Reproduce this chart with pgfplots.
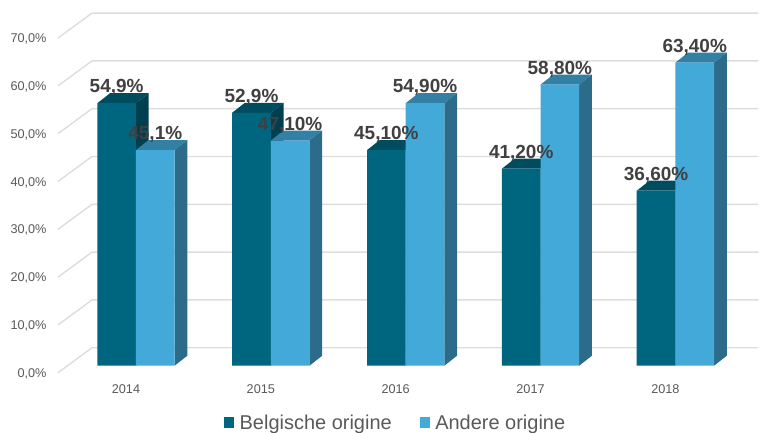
\documentclass[border=0pt]{standalone}
\usepackage{pgfplots}
\usepackage{pgfplotstable}
\usepackage{fontspec}
\setmainfont{Liberation Sans}
\pgfplotsset{compat=1.18}
\definecolor{darkfront}{HTML}{00667F}
\definecolor{darktop}{HTML}{004C5F}
\definecolor{darkside}{HTML}{003F50}
\definecolor{lightfront}{HTML}{42A9D9}
\definecolor{lighttop}{HTML}{3380A5}
\definecolor{lightside}{HTML}{2C6C8A}
\definecolor{gridc}{HTML}{DDDDDD}
\definecolor{labelc}{HTML}{404040}
\definecolor{tickc}{HTML}{595959}
\pgfplotstableread{
idx dark light darklab lightlab
0 54.9 45.1 {54,9\%} {45,1\%}
1 52.9 47.1 {52,9\%} {47,10\%}
2 45.1 54.9 {45,10\%} {54,90\%}
3 41.2 58.8 {41,20\%} {58,80\%}
4 36.6 63.4 {36,60\%} {63,40\%}
}\datatable
% 3D faces of one bar: left x, value, top colour, side colour
\newcommand\faces[4]{%
  \pgfmathsetmacro\xl{#1}%
  \pgfmathsetmacro\xr{#1+0.2867}%
  \pgfmathsetmacro\xlb{#1+0.0941}%
  \pgfmathsetmacro\xrb{#1+0.2867+0.0941}%
  \pgfmathsetmacro\vb{#2+2.09}%
  \addplot[forget plot,fill=#3,draw=none] coordinates {(\xl,#2) (\xlb,\vb) (\xrb,\vb) (\xr,#2)} -- cycle;
  \addplot[forget plot,fill=#4,draw=none] coordinates {(\xr,0) (\xrb,2.09) (\xrb,\vb) (\xr,#2)} -- cycle;
}
\newcommand\gridat[1]{%
  \pgfmathsetmacro\gb{#1+3.76}%
  \pgfmathsetmacro\gf{#1-1.46}%
  \addplot[forget plot,gridc,line width=1.4pt] coordinates {(-0.5778,\gf) (-0.3259,\gb) (4.6148,\gb)};
}
\begin{document}
\begin{tikzpicture}
\begin{axis}[
  scale only axis, width=759pt, height=432pt,
  xmin=-1.00741, xmax=4.6148, ymin=-13.79, ymax=76.47,
  clip=false,
  axis line style={draw=none},
  major tick length=0pt,
  xtick={0,1,2,3,4},
  xticklabels={2014,2015,2016,2017,2018},
  ytick={0,10,20,30,40,50,60,70},
  yticklabels={{0,0\%},{10,0\%},{20,0\%},{30,0\%},{40,0\%},{50,0\%},{60,0\%},{70,0\%}},
  xticklabel style={font=\fontsize{12.7}{15}\selectfont,text=tickc,anchor=center,xshift=-10pt,yshift=43pt},
  yticklabel style={font=\fontsize{12.7}{15}\selectfont,text=tickc,anchor=east,xshift=50pt,yshift=-8pt},
  legend style={draw=none,fill=none,at={(axis cs:1.926,-11.9)},anchor=center,
    font=\fontsize{20}{22}\selectfont,text=tickc,legend columns=2,
    /tikz/every even column/.append style={column sep=26pt},inner sep=0pt},
  legend image code/.code={\fill[#1,draw=none] (0pt,-5pt) rectangle (10pt,6pt);\path (13.5pt,0pt);},
]
\gridat{0}\gridat{10}\gridat{20}\gridat{30}\gridat{40}\gridat{50}\gridat{60}\gridat{70}
\faces{-0.2867}{54.9}{darktop}{darkside}
\faces{0.7133}{52.9}{darktop}{darkside}
\faces{1.7133}{45.1}{darktop}{darkside}
\faces{2.7133}{41.2}{darktop}{darkside}
\faces{3.7133}{36.6}{darktop}{darkside}
\addplot[ybar,bar width=0.2867,bar shift=-0.14335,fill=darkfront,draw=none] table[x=idx,y=dark] {\datatable};
\addlegendentry{Belgische origine}
\faces{0}{45.1}{lighttop}{lightside}
\faces{1}{47.1}{lighttop}{lightside}
\faces{2}{54.9}{lighttop}{lightside}
\faces{3}{58.8}{lighttop}{lightside}
\faces{4}{63.4}{lighttop}{lightside}
\addplot[ybar,bar width=0.2867,bar shift=0.14335,fill=lightfront,draw=none] table[x=idx,y=light] {\datatable};
\addlegendentry{Andere origine}
\addplot[forget plot,draw=none,
  nodes near coords,point meta=explicit symbolic,
  nodes near coords style={anchor=center,yshift=15.5pt,font=\fontsize{19}{22}\selectfont\bfseries,text=labelc}]
  table[x expr=\thisrow{idx}-0.14335,y=dark,meta=darklab] {\datatable};
\addplot[forget plot,draw=none,
  nodes near coords,point meta=explicit symbolic,
  nodes near coords style={anchor=center,yshift=15.5pt,font=\fontsize{19}{22}\selectfont\bfseries,text=labelc}]
  table[x expr=\thisrow{idx}+0.14335,y=light,meta=lightlab] {\datatable};
\end{axis}
\end{tikzpicture}
\end{document}
